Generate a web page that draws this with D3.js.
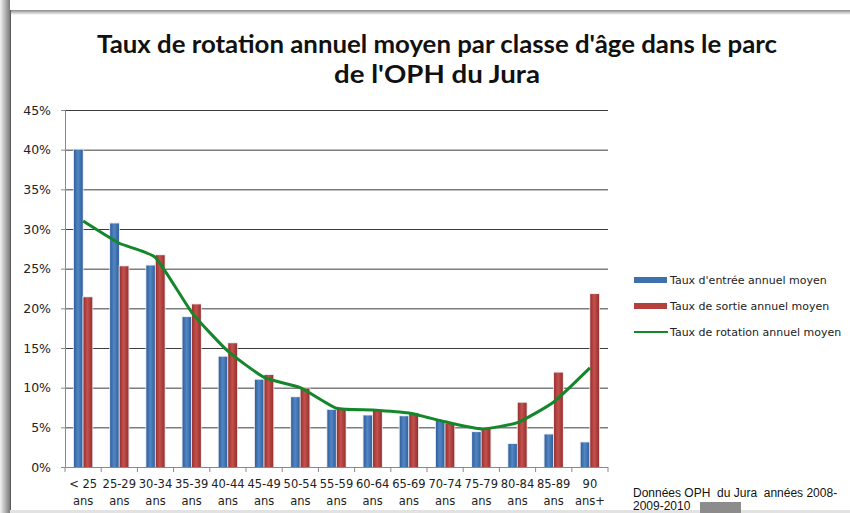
<!DOCTYPE html>
<html>
<head>
<meta charset="utf-8">
<script src="https://cdn.jsdelivr.net/npm/d3@7"></script>
<style>
  body { margin: 0; background: #fff; }
  svg { display: block; }
</style>
</head>
<body>
<svg></svg>
<script>
var screen = {width: 850, height: 513};
var plot = {left: 65, right: 608, top: 110, bottom: 467};

// data
var categories = ["< 25|ans", "25-29|ans", "30-34|ans", "35-39|ans", "40-44|ans", "45-49|ans", "50-54|ans",
                  "55-59|ans", "60-64|ans", "65-69|ans", "70-74|ans", "75-79|ans", "80-84|ans", "85-89|ans", "90|ans+"];
var entree = [40.0, 30.7, 25.4, 18.9, 13.9, 11.0, 8.8, 7.2, 6.5, 6.4, 5.8, 4.4, 2.9, 4.1, 3.1];
var sortie = [21.4, 25.3, 26.7, 20.5, 15.6, 11.6, 9.9, 7.3, 7.2, 6.8, 5.5, 4.9, 8.1, 11.9, 21.8];
var rotation = [31.0, 28.2, 26.4, 19.5, 14.6, 11.3, 10.0, 7.4, 7.2, 6.8, 5.7, 4.8, 5.6, 8.2, 12.5];
var yTicks = [0, 5, 10, 15, 20, 25, 30, 35, 40, 45];
var seriesNames = ["Taux d'entrée annuel moyen", "Taux de sortie annuel moyen", "Taux de rotation annuel moyen"];

var svg = d3.select("svg").attr("width", screen.width).attr("height", screen.height);
var defs = svg.append("defs");

function barGradient(id, edge, mid)
{
    var g = defs.append("linearGradient").attr("id", id).attr("x1", 0).attr("x2", 1).attr("y1", 0).attr("y2", 0);
    g.append("stop").attr("offset", "0%").attr("stop-color", edge);
    g.append("stop").attr("offset", "45%").attr("stop-color", mid);
    g.append("stop").attr("offset", "100%").attr("stop-color", edge);
}
barGradient("gBlue", "#2f5f9c", "#5286c4");
barGradient("gRed", "#96302d", "#c4514e");

var sh = defs.append("linearGradient").attr("id", "gLeft").attr("x1", 0).attr("x2", 1);
sh.append("stop").attr("offset", "0%").attr("stop-color", "#f2f2f2");
sh.append("stop").attr("offset", "100%").attr("stop-color", "#7a7a7a");
var sh2 = defs.append("linearGradient").attr("id", "gTop").attr("x1", 0).attr("x2", 0).attr("y1", 0).attr("y2", 1);
sh2.append("stop").attr("offset", "0%").attr("stop-color", "#8a8a8a");
sh2.append("stop").attr("offset", "100%").attr("stop-color", "#ffffff");

// frame / shadow
svg.append("rect").attr("x", 0).attr("y", 0).attr("width", 10).attr("height", screen.height).attr("fill", "url(#gLeft)");
svg.append("rect").attr("x", 10).attr("y", 10).attr("width", 840).attr("height", 5).attr("fill", "url(#gTop)");
svg.append("line").attr("x1", 10.5).attr("x2", 10.5).attr("y1", 10).attr("y2", screen.height).attr("stroke", "#5a5a5a");
svg.append("rect").attr("x", 10).attr("y", 510).attr("width", 840).attr("height", 3).attr("fill", "#e2e2e2");

// title
var title = svg.append("text").attr("text-anchor", "middle")
    .style("font-family", "Lato, 'Open Sans', sans-serif").style("font-weight", "bold").style("font-size", "25px")
    .attr("fill", "#111");
title.append("tspan").attr("x", 437).attr("y", 53).attr("textLength", 680).attr("lengthAdjust", "spacingAndGlyphs")
    .text("Taux de rotation annuel moyen par classe d'âge dans le parc");
title.append("tspan").attr("x", 437).attr("y", 83).attr("textLength", 206).attr("lengthAdjust", "spacingAndGlyphs")
    .text("de l'OPH du Jura");

var x = d3.scaleBand().domain(categories).range([plot.left, plot.right]);
var xSub = d3.scaleBand().domain(["entree", "sortie"]).range([0, x.bandwidth()]).paddingInner(0.07).paddingOuter(0.94);
var y = d3.scaleLinear().domain([0, 45]).range([plot.bottom, plot.top]);

// gridlines
svg.append("g")
    .attr("transform", "translate(" + plot.left + ",0)")
    .call(d3.axisLeft(y).tickValues(yTicks.filter(function(d){ return d > 0; })).tickSize(-(plot.right - plot.left)).tickFormat(""))
    .call(function(g){ g.select(".domain").remove(); })
    .selectAll("line").attr("stroke", "#3c3c3c");

// y axis
var yAxis = svg.append("g")
    .attr("transform", "translate(" + plot.left + ",0)")
    .call(d3.axisLeft(y).tickValues(yTicks).tickSize(4).tickPadding(10).tickFormat(function(d){ return d + "%"; }));
yAxis.select(".domain").attr("stroke", "#8a8a8a");
yAxis.selectAll("line").attr("stroke", "#8a8a8a");
yAxis.selectAll("text").style("font-family", "'DejaVu Sans', sans-serif").style("font-size", "12.5px").attr("fill", "#222");

// bars
var rows = categories.map(function(c, i){ return {cat: c, entree: entree[i], sortie: sortie[i], rotation: rotation[i]}; });
var groups = svg.append("g").selectAll("g").data(rows).enter().append("g")
    .attr("transform", function(d){ return "translate(" + x(d.cat) + ",0)"; });

[["entree", "gBlue"], ["sortie", "gRed"]].forEach(function(s)
{
    groups.append("rect")
        .attr("x", xSub(s[0]) - 1)
        .attr("y", function(d){ return y(d[s[0]]) - 1; })
        .attr("width", xSub.bandwidth() + 2)
        .attr("height", function(d){ return y(0) - y(d[s[0]]) + 1; })
        .attr("fill", "#e9e9ee").attr("opacity", 0.8);
    groups.append("rect")
        .attr("x", xSub(s[0]))
        .attr("y", function(d){ return y(d[s[0]]); })
        .attr("width", xSub.bandwidth())
        .attr("height", function(d){ return y(0) - y(d[s[0]]); })
        .attr("fill", "url(#" + s[1] + ")");
});

// x axis
var xAxisG = svg.append("g");
xAxisG.append("line").attr("x1", plot.left).attr("x2", plot.right).attr("y1", plot.bottom + 0.5).attr("y2", plot.bottom + 0.5).attr("stroke", "#8a8a8a");
xAxisG.selectAll(".tk").data(categories.concat([null])).enter().append("line")
    .attr("x1", function(d){ return d === null ? plot.right : x(d); })
    .attr("x2", function(d){ return d === null ? plot.right : x(d); })
    .attr("y1", plot.bottom).attr("y2", plot.bottom + 5).attr("stroke", "#8a8a8a");
var lbl = xAxisG.selectAll(".lb").data(categories).enter().append("text")
    .attr("text-anchor", "middle")
    .style("font-family", "'DejaVu Sans', sans-serif").style("font-size", "11.5px").attr("fill", "#222");
lbl.append("tspan").attr("x", function(d){ return x(d) + x.bandwidth() / 2; }).attr("y", 488).text(function(d){ return d.split("|")[0]; });
lbl.append("tspan").attr("x", function(d){ return x(d) + x.bandwidth() / 2; }).attr("y", 505).text(function(d){ return d.split("|")[1]; });

// rotation line
var line = d3.line()
    .x(function(d){ return x(d.cat) + x.bandwidth() / 2; })
    .y(function(d){ return y(d.rotation); })
    .curve(d3.curveCardinal.tension(0.5));
svg.append("path").datum(rows).attr("d", line).attr("fill", "none").attr("stroke", "#13872a").attr("stroke-width", 3);

// legend
var legend = svg.append("g").attr("transform", "translate(634,280)");
var legendColors = ["url(#gBlue)", "url(#gRed)", "#13872a"];
seriesNames.forEach(function(name, i)
{
    var row = legend.append("g").attr("transform", "translate(0," + (i * 26) + ")");
    if (i < 2)
        row.append("rect").attr("x", 0).attr("y", -3).attr("width", 33).attr("height", 6).attr("fill", i == 0 ? "#3f70ae" : "#b2403d");
    else
        row.append("line").attr("x1", 0).attr("x2", 34).attr("y1", 0).attr("y2", 0).attr("stroke", legendColors[i]).attr("stroke-width", 2);
    row.append("text").attr("x", 36).attr("y", 4)
        .style("font-family", "'DejaVu Sans', sans-serif").style("font-size", "11px").attr("fill", "#222")
        .text(name);
});

// source note
var note = svg.append("text").style("font-family", "'Liberation Sans', Arial, sans-serif").style("font-size", "12px")
    .attr("fill", "#111").style("white-space", "pre");
note.append("tspan").attr("x", 633).attr("y", 497).text("Données OPH  du Jura  années 2008-");
note.append("tspan").attr("x", 633).attr("y", 510).text("2009-2010");
svg.append("rect").attr("x", 700).attr("y", 502).attr("width", 41).attr("height", 11).attr("fill", "#8c8c8c");
</script>
</body>
</html>
